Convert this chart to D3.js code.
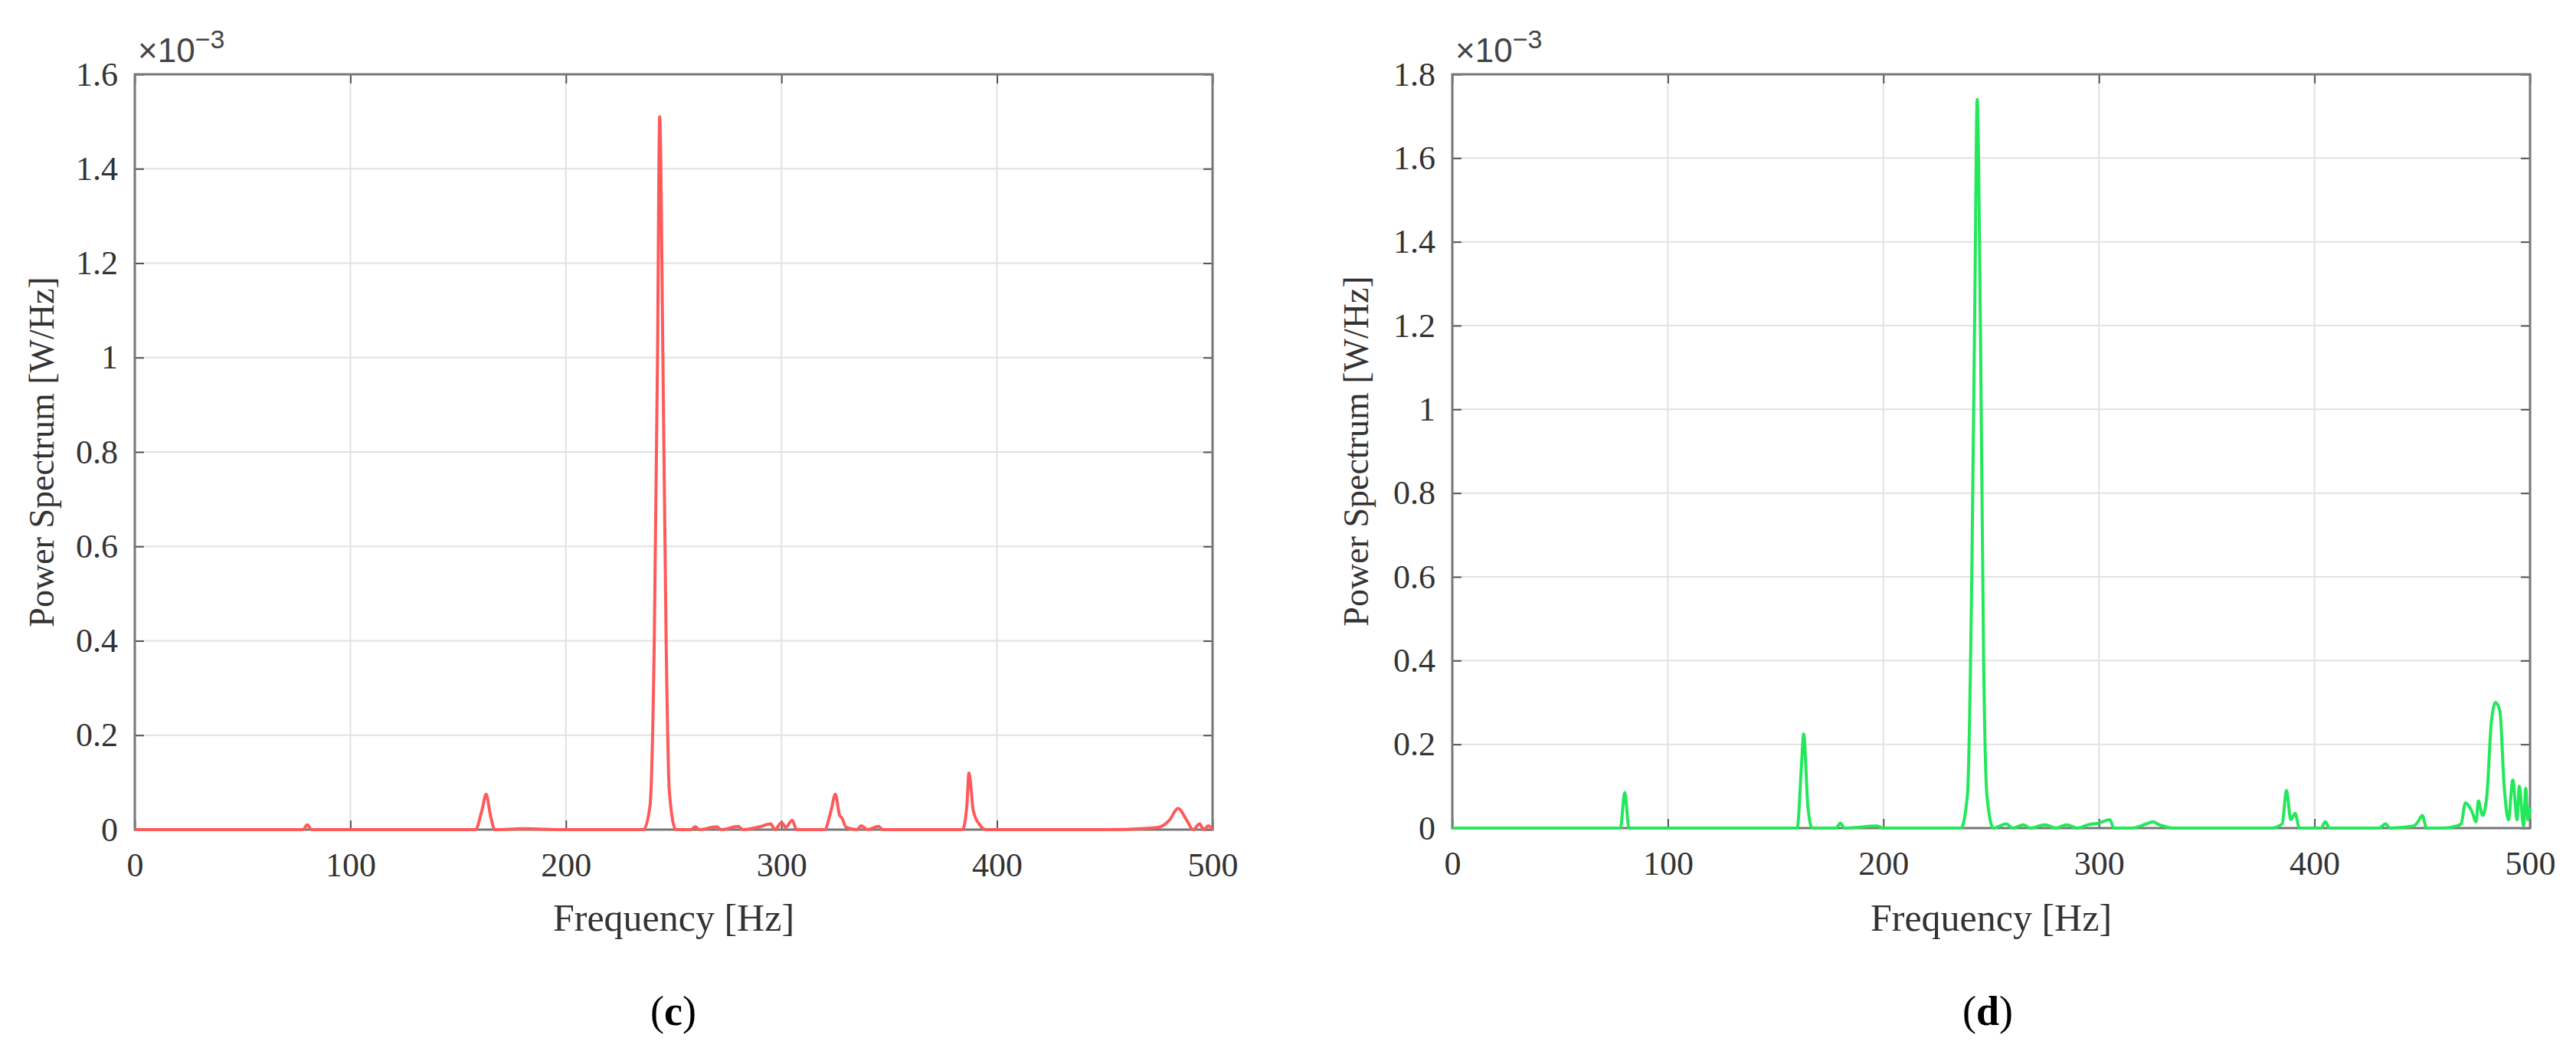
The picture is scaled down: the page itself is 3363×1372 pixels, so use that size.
<!DOCTYPE html>
<html><head><meta charset="utf-8">
<script src="https://cdn.jsdelivr.net/npm/d3@7"></script>
<style>body{margin:0;background:#fff}svg{display:block}</style>
</head><body>
<svg id="c" width="3363" height="1372"></svg>
<script>
// frequency (Hz) / power (x1e-3 W/Hz)
var redFreq = [0,20,40,60,78,80,82,100,120,140,158,161,163,165,167,180,200,220,236,239,241,242.5,243.5,245,246.5,248,251,258,260,262,270,272,280,282,290,295,297,300,302,305,307,310,320,323,325,327,328,330,335,337,340,345,347,350,360,370,380,384,386,387,389,392,395,420,450,470,475,480,484,488,491,494,496,498,500];
var redPower = [0,0,0,0,0,0.01,0,0,0,0,0,0.04,0.075,0.03,0,0.002,0,0,0,0.05,0.4,1.0,1.51,1.0,0.4,0.08,0,0,0.006,0,0.006,0,0.007,0,0.006,0.012,0,0.015,0.005,0.02,0,0,0,0.04,0.075,0.03,0.025,0.005,0,0.008,0,0.007,0,0,0,0,0,0,0.05,0.12,0.04,0.01,0,0,0,0.003,0.005,0.02,0.045,0.02,0,0.012,0,0.008,0];
var greenFreq = [0,20,40,60,78,80,82,100,120,140,160,162,163,165,167,178,180,182,197,200,220,236,239,241,242.5,243.5,245,246.5,248,251,257,260,265,268,275,280,285,290,295,300,305,307,315,322,325,328,335,360,380,385,387,389,391,393,403,405,407,420,430,433,435,446,448,450,452,460,466,468,470,473,475,476,478,480,482,484,486,488,490,492,494,495,497,498,499,500];
var greenPower = [0,0,0,0,0,0.085,0,0,0,0,0,0.15,0.225,0.05,0,0,0.012,0,0.005,0,0,0,0.08,0.6,1.3,1.74,1.2,0.4,0.08,0,0.01,0,0.008,0,0.008,0,0.008,0,0.008,0.012,0.02,0,0,0.01,0.015,0.008,0,0,0,0.01,0.09,0.02,0.035,0,0,0.015,0,0,0,0.01,0,0.005,0.015,0.03,0,0,0.005,0.01,0.06,0.04,0.015,0.065,0.03,0.08,0.25,0.3,0.28,0.1,0.02,0.115,0.02,0.1,0.005,0.095,0.02,0.05];
var xTicks = [0,100,200,300,400,500];
var redTicks = [0,0.2,0.4,0.6,0.8,1,1.2,1.4,1.6];
var greenTicks = [0,0.2,0.4,0.6,0.8,1,1.2,1.4,1.6,1.8];

var svg = d3.select('#c');
var font = '"Liberation Serif","Times New Roman",serif';

function panel(cfg) {
  var x = d3.scaleLinear().domain([0, 500]).range([cfg.left, cfg.right]);
  var y = d3.scaleLinear().domain([0, cfg.ymax]).range([cfg.bottom, cfg.top]);
  var g = svg.append('g');

  // grid
  g.selectAll('.gx').data(xTicks).enter().append('line')
    .attr('x1', x).attr('x2', x).attr('y1', cfg.top).attr('y2', cfg.bottom)
    .attr('stroke', '#e2e2e2').attr('stroke-width', 2);
  g.selectAll('.gy').data(cfg.yTicks).enter().append('line')
    .attr('y1', y).attr('y2', y).attr('x1', cfg.left).attr('x2', cfg.right)
    .attr('stroke', '#e2e2e2').attr('stroke-width', 2);

  // axes with inward ticks
  var ax = function(sel) { sel.select('.domain').remove(); sel.selectAll('line').attr('stroke', '#555').attr('stroke-width', 2);
    sel.selectAll('text').attr('font-family', font).attr('font-size', 44).attr('fill', '#333'); };
  g.append('g').attr('transform', 'translate(0,' + cfg.bottom + ')')
    .call(d3.axisBottom(x).tickValues(xTicks).tickSize(-12).tickPadding(30).tickFormat(d3.format('d'))).call(ax);
  g.append('g').attr('transform', 'translate(0,' + cfg.top + ')')
    .call(d3.axisTop(x).tickValues(xTicks).tickSize(-12).tickFormat('')).call(ax);
  g.append('g').attr('transform', 'translate(' + cfg.left + ',0)')
    .call(d3.axisLeft(y).tickValues(cfg.yTicks).tickSize(-12).tickPadding(22).tickFormat(function(d){ return d3.format('~g')(d); })).call(ax);
  g.append('g').attr('transform', 'translate(' + cfg.right + ',0)')
    .call(d3.axisRight(y).tickValues(cfg.yTicks).tickSize(-12).tickFormat('')).call(ax);

  g.append('rect').attr('x', cfg.left).attr('y', cfg.top)
    .attr('width', cfg.right - cfg.left).attr('height', cfg.bottom - cfg.top)
    .attr('fill', 'none').attr('stroke', '#777').attr('stroke-width', 3);

  var line = d3.line().curve(d3.curveMonotoneX).x(function(d){ return x(d[0]); }).y(function(d){ return y(d[1]); });
  g.append('path').datum(d3.zip(cfg.freq, cfg.power)).attr('d', line)
    .attr('fill', 'none').attr('stroke', cfg.color).attr('stroke-width', 4);

  g.append('text').attr('x', cfg.left + 4).attr('y', cfg.top - 16)
    .attr('font-family', '"Liberation Sans",Arial,sans-serif').attr('font-size', 44).attr('fill', '#444')
    .text('\u00d710').append('tspan').attr('dy', -18).attr('font-size', 34).text('\u22123');

  g.append('text').attr('x', (cfg.left + cfg.right) / 2).attr('y', 1215)
    .attr('text-anchor', 'middle').attr('font-family', font).attr('font-size', 50).attr('fill', '#333')
    .text('Frequency [Hz]');
  g.append('text').attr('transform', 'translate(' + cfg.ylabX + ',' + ((cfg.top + cfg.bottom) / 2) + ') rotate(-90)')
    .attr('text-anchor', 'middle').attr('font-family', font).attr('font-size', 46).attr('fill', '#333')
    .text('Power Spectrum [W/Hz]');
  g.append('text').attr('x', cfg.capX).attr('y', 1338)
    .attr('text-anchor', 'middle').attr('font-family', font).attr('font-size', 54).attr('fill', '#000')
    .html('(<tspan font-weight="bold">' + cfg.cap + '</tspan>)');
}

panel({left: 176, right: 1583, top: 97, bottom: 1083, ymax: 1.6, yTicks: redTicks,
  freq: redFreq, power: redPower, color: '#ff5a5a', ylabX: 70, capX: 879, cap: 'c'});
panel({left: 1896, right: 3303, top: 97, bottom: 1081, ymax: 1.8, yTicks: greenTicks,
  freq: greenFreq, power: greenPower, color: '#22e85a', ylabX: 1786, capX: 2595, cap: 'd'});
</script>
</body></html>
